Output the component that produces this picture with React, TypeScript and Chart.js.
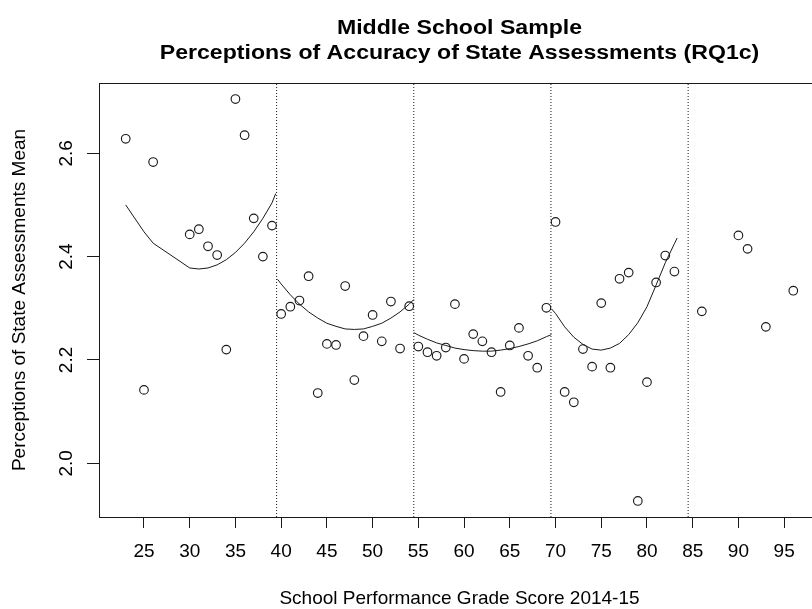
import React, { useEffect, useRef } from 'react';
import { Chart, registerables } from 'chart.js';

Chart.register(...registerables);

// ---- data ----
const scoreX = [
  23, 25, 26, 30, 31, 32, 33, 34, 35, 36, 37, 38, 39,
  40, 41, 42, 43, 44, 45, 46, 47, 48, 49, 50, 51, 52, 53, 54,
  55, 56, 57, 58, 59, 60, 61, 62, 63, 64, 65, 66, 67, 68, 69,
  70, 71, 72, 73, 74, 75, 76, 77, 78, 79, 80, 81, 82, 83,
  86, 90, 91, 93, 96,
];
const meanY = [
  2.628, 2.142, 2.583, 2.443, 2.453, 2.420, 2.403, 2.220, 2.705, 2.635, 2.474, 2.400, 2.460,
  2.289, 2.303, 2.315, 2.362, 2.136, 2.231, 2.229, 2.343, 2.161, 2.246, 2.287, 2.236, 2.313, 2.222, 2.304,
  2.226, 2.215, 2.208, 2.224, 2.308, 2.202, 2.250, 2.236, 2.215, 2.138, 2.228, 2.262, 2.208, 2.185, 2.301,
  2.467, 2.138, 2.118, 2.221, 2.187, 2.310, 2.185, 2.357, 2.369, 1.927, 2.157, 2.350, 2.402, 2.371,
  2.294, 2.441, 2.415, 2.264, 2.334,
];

const fit1X = [23, 25, 26, 30, 31, 32, 33, 34, 35, 36, 37, 38, 39, 39.4];
const fit1Y = [2.500, 2.448, 2.426, 2.378, 2.376, 2.378, 2.384, 2.394, 2.408, 2.426, 2.448, 2.474, 2.504, 2.522];

const fit2X = [39.6, 40, 41, 42, 43, 44, 45, 46, 47, 48, 49, 50, 51, 52, 53, 54, 54.5];
const fit2Y = [2.356, 2.347, 2.326, 2.308, 2.293, 2.281, 2.271, 2.265, 2.260, 2.259, 2.260, 2.265, 2.271, 2.281, 2.293, 2.308, 2.317];

const fit3X = [54.5, 55, 56, 57, 58, 59, 60, 61, 62, 63, 64, 65, 66, 67, 68, 69, 69.55];
const fit3Y = [2.253, 2.248, 2.240, 2.233, 2.228, 2.223, 2.220, 2.218, 2.217, 2.217, 2.219, 2.222, 2.226, 2.231, 2.237, 2.245, 2.249];

const fit4X = [69.55, 70, 71, 72, 73, 74, 75, 76, 77, 78, 79, 80, 81, 82, 83, 83.3];
const fit4Y = [2.299, 2.290, 2.264, 2.244, 2.230, 2.221, 2.219, 2.223, 2.232, 2.249, 2.272, 2.303, 2.345, 2.388, 2.425, 2.436];

const cutPoints = [39.5, 54.5, 69.5, 84.5];

const xTicks = [25, 30, 35, 40, 45, 50, 55, 60, 65, 70, 75, 80, 85, 90, 95];
const yTicks = [2.0, 2.2, 2.4, 2.6];
const yTickLabels = ['2.0', '2.2', '2.4', '2.6'];

const xRange = [20.08, 98.92];
const yRange = [1.896, 2.736];

const titleLines = ['Middle School Sample', 'Perceptions of Accuracy of State Assessments (RQ1c)'];
const xTitle = 'School Performance Grade Score 2014-15';
const yTitle = 'Perceptions of State Assessments Mean';

const FONT = '"Liberation Sans", Arial, Helvetica, sans-serif';
const INK = '#1a1a1a';

const pairs = (xs: number[], ys: number[]) => xs.map((x, i) => ({ x, y: ys[i] }));

const decorPlugin = {
  id: 'decor',
  afterDraw(chart: any) {
    const { ctx, chartArea: a, scales } = chart;
    ctx.save();
    // box
    ctx.strokeStyle = INK;
    ctx.lineWidth = 1;
    ctx.setLineDash([]);
    ctx.strokeRect(
      Math.round(a.left) + 0.5,
      Math.round(a.top) + 0.5,
      Math.round(a.right - a.left),
      Math.round(a.bottom - a.top)
    );
    // rotated y tick labels
    ctx.fillStyle = '#000';
    ctx.font = `19px ${FONT}`;
    ctx.textAlign = 'center';
    ctx.textBaseline = 'alphabetic';
    yTicks.forEach((v, i) => {
      const y = scales.y.getPixelForValue(v);
      ctx.save();
      ctx.translate(72, y);
      ctx.rotate(-Math.PI / 2);
      ctx.fillText(yTickLabels[i], 0, 0);
      ctx.restore();
    });
    // main title (wide bold face, as in the original rendering)
    ctx.font = `bold 20px ${FONT}`;
    const cx = (a.left + a.right) / 2;
    const stretch = 1.155;
    [33.5, 59.3].forEach((by, i) => {
      ctx.save();
      ctx.translate(cx, by);
      ctx.scale(stretch, 1);
      ctx.fillText(titleLines[i], 0, 0);
      ctx.restore();
    });
    ctx.restore();
  },
};

export default function App() {
  const ref = useRef<HTMLCanvasElement | null>(null);

  useEffect(() => {
    if (!ref.current) return;
    const lineDs = (data: any[], dash: number[] = []) => ({
      type: 'scatter' as const,
      data,
      showLine: true,
      borderColor: INK,
      borderWidth: 1,
      borderDash: dash,
      pointRadius: 0,
      pointHoverRadius: 0,
      tension: 0,
      fill: false,
    });

    const chart = new Chart(ref.current, {
      type: 'scatter',
      data: {
        datasets: [
          {
            data: pairs(scoreX, meanY),
            showLine: false,
            pointRadius: 4.3,
            pointBorderWidth: 1.15,
            pointBorderColor: INK,
            pointBackgroundColor: 'rgba(0,0,0,0)',
          } as any,
          lineDs(pairs(fit1X, fit1Y)),
          lineDs(pairs(fit2X, fit2Y)),
          lineDs(pairs(fit3X, fit3Y)),
          lineDs(pairs(fit4X, fit4Y)),
          ...cutPoints.map((c) =>
            lineDs(
              [
                { x: c, y: yRange[0] },
                { x: c, y: yRange[1] },
              ],
              [1, 2]
            )
          ),
        ],
      },
      options: {
        responsive: false,
        animation: false,
        devicePixelRatio: 1,
        layout: { padding: { top: 83, right: 10, left: 0, bottom: 0 } },
        plugins: {
          legend: { display: false },
          tooltip: { enabled: false },
          title: { display: false },
        },
        scales: {
          x: {
            type: 'linear',
            min: xRange[0],
            max: xRange[1],
            afterBuildTicks: (s: any) => {
              s.ticks = xTicks.map((v) => ({ value: v }));
            },
            afterFit: (s: any) => {
              s.height = 92;
            },
            grid: {
              drawOnChartArea: false,
              drawTicks: true,
              tickLength: 11,
              color: INK,
              lineWidth: 1,
            },
            border: { display: true, color: INK, width: 1 },
            ticks: {
              color: '#000',
              font: { family: FONT, size: 19 },
              padding: 12,
              maxRotation: 0,
              minRotation: 0,
              autoSkip: false,
              callback: (v: any) => String(v),
            },
            title: {
              display: true,
              text: xTitle,
              color: '#000',
              font: { family: FONT, size: 19, lineHeight: 1 },
              padding: { top: 0, bottom: 1 },
            },
          },
          y: {
            type: 'linear',
            min: yRange[0],
            max: yRange[1],
            afterBuildTicks: (s: any) => {
              s.ticks = yTicks.map((v) => ({ value: v }));
            },
            afterFit: (s: any) => {
              s.width = 99;
            },
            grid: {
              drawOnChartArea: false,
              drawTicks: true,
              tickLength: 12,
              color: INK,
              lineWidth: 1,
            },
            border: { display: true, color: INK, width: 1 },
            ticks: { display: false },
            title: {
              display: true,
              text: yTitle,
              color: '#000',
              font: { family: FONT, size: 19, lineHeight: 1 },
              padding: { top: 10, bottom: 0 },
            },
          },
        },
      } as any,
      plugins: [decorPlugin],
    });
    return () => chart.destroy();
  }, []);

  return (
    <div
      style={{
        position: 'fixed',
        left: 0,
        top: 0,
        width: 812,
        height: 609,
        overflow: 'hidden',
        background: '#fff',
      }}
    >
      <canvas ref={ref} width={830} height={609} style={{ display: 'block', width: 830, height: 609 }} />
    </div>
  );
}
